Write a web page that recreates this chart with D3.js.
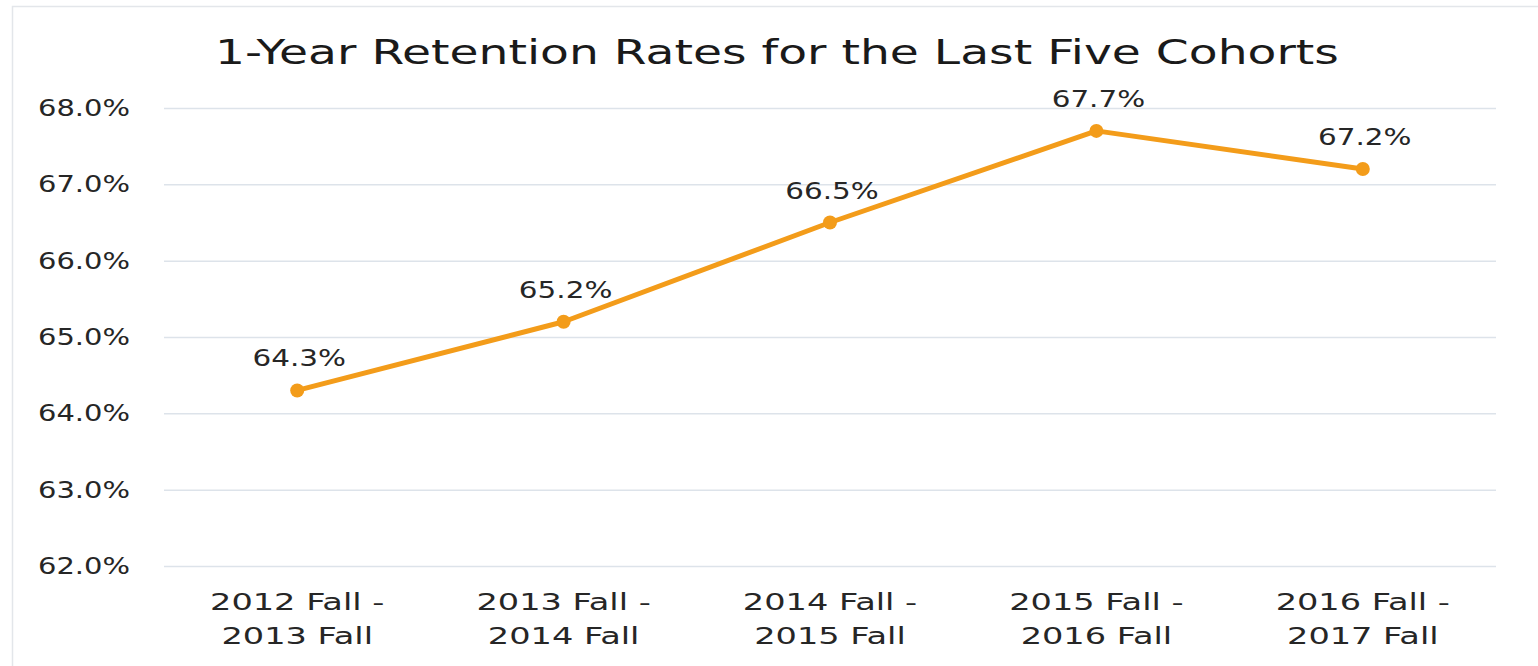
<!DOCTYPE html>
<html><head><meta charset="utf-8">
<script src="https://cdn.jsdelivr.net/npm/d3@7"></script>
<style>html,body{margin:0;padding:0;background:#fff;}svg{display:block;}</style>
</head><body>
<svg id="chart" width="1538" height="666"></svg>
<script>
const categories = [["2012 Fall -","2013 Fall"],["2013 Fall -","2014 Fall"],["2014 Fall -","2015 Fall"],["2015 Fall -","2016 Fall"],["2016 Fall -","2017 Fall"]];
const values = [64.3, 65.2, 66.5, 67.7, 67.2];
const yTicks = [62, 63, 64, 65, 66, 67, 68];
const title = "1-Year Retention Rates for the Last Five Cohorts";

const svg = d3.select("#chart");
const FONT = "DejaVu Sans, Verdana, sans-serif";
const ORANGE = "#F39C1A";

svg.append("rect").attr("x",12.5).attr("y",6.5).attr("width",1540).attr("height",680)
  .attr("fill","none").attr("stroke","#e3e6ea").attr("stroke-width",1.5);

const x = d3.scalePoint().domain(d3.range(values.length)).range([164,1496]).padding(0.5);
const y = d3.scaleLinear().domain([62,68]).range([566,108]);

function stext(g, px, py, str, size, anchor, sx, fill){
  return g.append("text").attr("transform",`translate(${px},${py}) scale(${sx},1)`)
    .attr("font-family",FONT).attr("font-size",size).attr("text-anchor",anchor)
    .attr("fill",fill||"#262626").text(str);
}

// gridlines
const yAxis = d3.axisLeft(y).tickValues(yTicks).tickSize(-(1496-164)).tickFormat("");
const ga = svg.append("g").attr("transform","translate(164,0)").call(yAxis);
ga.select(".domain").remove();
ga.selectAll("line").attr("stroke","#dde3ea").attr("stroke-width",1.5);

// y tick labels
const tl = svg.append("g");
yTicks.forEach(t => stext(tl, 130, y(t)+8, d3.format(".1f")(t)+"%", 23, "end", 1.26));

// x labels
const xl = svg.append("g");
categories.forEach((c,i)=>{
  stext(xl, x(i), 610, c[0], 23, "middle", 1.46);
  stext(xl, x(i), 644, c[1], 23, "middle", 1.46);
});

// line
svg.append("path").datum(values)
  .attr("d", d3.line().x((d,i)=>x(i)).y(d=>y(d)))
  .attr("fill","none").attr("stroke",ORANGE).attr("stroke-width",5).attr("stroke-linejoin","round");
svg.append("g").selectAll("circle").data(values).join("circle")
  .attr("cx",(d,i)=>x(i)).attr("cy",d=>y(d)).attr("r",7).attr("fill",ORANGE);

// data labels
const dl = svg.append("g");
values.forEach((v,i)=> stext(dl, x(i)+2, y(v)-24, d3.format(".1f")(v)+"%", 23, "middle", 1.28));

// title
stext(svg, 777, 64, title, 33, "middle", 1.43, "#1a1a1a");
</script>
</body></html>
